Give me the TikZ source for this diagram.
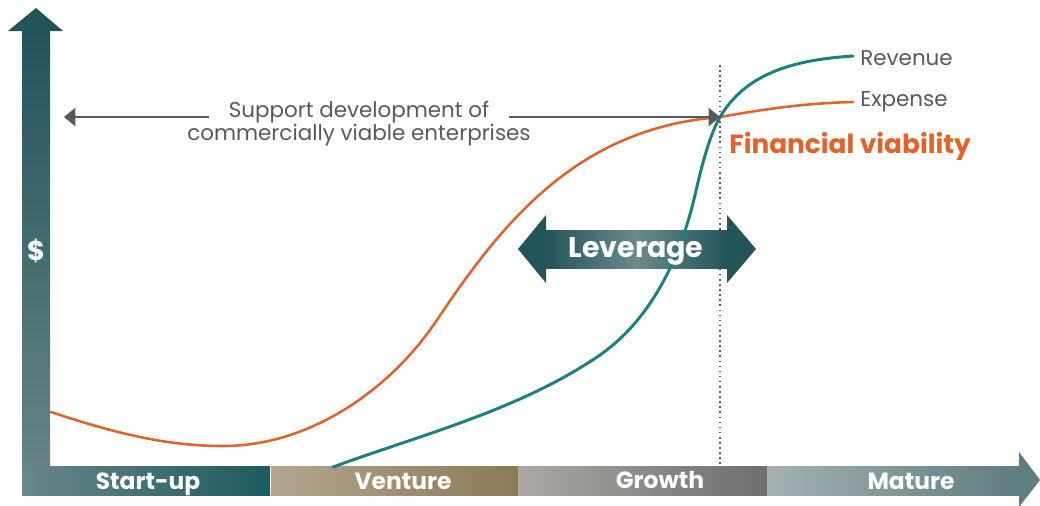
\documentclass[tikz,border=0pt]{standalone}
\usepackage{fontspec}
\setmainfont{Poppins}
\usepackage{xcolor}
\usepackage{tikz}
\usetikzlibrary{arrows.meta, positioning}
\definecolor{axisdark}{HTML}{23545A}
\definecolor{axislight}{HTML}{6A8688}
\definecolor{startR}{HTML}{1C5B5F}
\definecolor{ventL}{HTML}{B3A68D}
\definecolor{ventR}{HTML}{8A7A58}
\definecolor{growL}{HTML}{ABA8A4}
\definecolor{growR}{HTML}{6E6E6E}
\definecolor{matL}{HTML}{A4B1B3}
\definecolor{matR}{HTML}{5E7D7F}
\definecolor{levlight}{HTML}{6A8A8B}
\definecolor{expcol}{HTML}{E2622A}
\definecolor{revcol}{HTML}{1E7F83}
\definecolor{txtgray}{HTML}{58595B}
\tikzset{
  curve/.style={line width=1.45pt, line cap=round},
  suparrow/.style={
    draw=txtgray,
    line width=0.8pt,
    -{Triangle[length=6.5pt, width=10.5pt]}
  },
  vline/.style={txtgray, line width=0.9pt, dotted},
  thinlbl/.style={text=txtgray, font=\fontsize{12.2}{14}\selectfont},
  barlbl/.style={text=white, font=\fontsize{13.3}{15}\selectfont\bfseries},
  fvlbl/.style={text=expcol, font=\fontsize{15}{17}\selectfont\bfseries}
}
\begin{document}
\begin{tikzpicture}[x=0.02cm, y=-0.02cm, every node/.style={inner sep=0pt}]
\useasboundingbox (0,0) rectangle (1040,505);
% axes
\shade[top color=axisdark, bottom color=axislight] (22,30) rectangle (50,495);
\fill[axisdark] (8,31) -- (36,8) -- (63,31) -- cycle;
\shade[left color=axislight, right color=startR] (22,466) rectangle (270,495);
\shade[left color=ventL, right color=ventR] (270,466) rectangle (518,495);
\shade[left color=growL, right color=growR] (518,466) rectangle (767,495);
\shade[left color=matL, right color=matR] (767,466) rectangle (1019,495);
\fill[matR] (1019,452) -- (1040,480) -- (1019,507) -- cycle;
\draw[white, line width=0.4pt] (270,466) -- (270,495);

\node[barlbl, anchor=base] (Start) at (148,489) {Start-up};
\node[barlbl, anchor=base] (Vent) at (403,489) {Venture};
\node[barlbl, anchor=base] (Grow) at (660,488) {Growth};
\node[barlbl, anchor=base] (Mat) at (911,489) {Mature};
\node[barlbl, font=\fontsize{15.5}{17}\selectfont\bfseries] (Dol) at (36,251) {\$};

% financial viability line
\coordinate (VT) at (720,65);
\coordinate (VB) at (720,466);
\draw[vline] (VT) -- (VB);

% leverage
\shade[left color=axisdark, right color=axisdark, middle color=levlight] (546,230) rectangle (727,268);
\fill[axisdark] (546,215) -- (518,249) -- (546,283) -- cycle;
\fill[axisdark] (727,215) -- (756,249) -- (727,283) -- cycle;

% curves
\coordinate (FV) at (720,117);
\draw[curve, expcol] (51,412) .. controls (120,435) and (170,446) .. (223,446)
  .. controls (310,446) and (390,390) .. (437,320)
  .. controls (505,218) and (580,128) .. (FV)
  .. controls (770,108) and (810,103) .. (853,102);
\draw[curve, revcol, line width=1.7pt] (333,467) .. controls (420,435) and (520,410) .. (600,355)
  .. controls (650,320) and (680,260) .. (695,195)
  .. controls (703,160) and (710,135) .. (FV)
  .. controls (745,75) and (790,60) .. (853,56);

\node[barlbl, font=\fontsize{16.2}{18}\selectfont\bfseries] (Lev) at (636,251) {Leverage};

% labels
\node[thinlbl, anchor=west] (Rev) at (860,58) {Revenue};
\node[thinlbl, anchor=west] (Exp) at (860,102) {Expense};
\node[fvlbl, anchor=west] (FinV) at (729,146) {Financial viability};

\node[thinlbl, anchor=base, inner xsep=0.38cm] (Sup1) at (359,117) {Support development of};
\node[thinlbl, anchor=base] (Sup2) at (359,140) {commercially viable enterprises};
\coordinate (L) at (64,117);
\draw[suparrow] (Sup1.west |- L) -- (L);
\draw[suparrow] (Sup1.east |- FV) -- (FV);
\end{tikzpicture}
\end{document}
